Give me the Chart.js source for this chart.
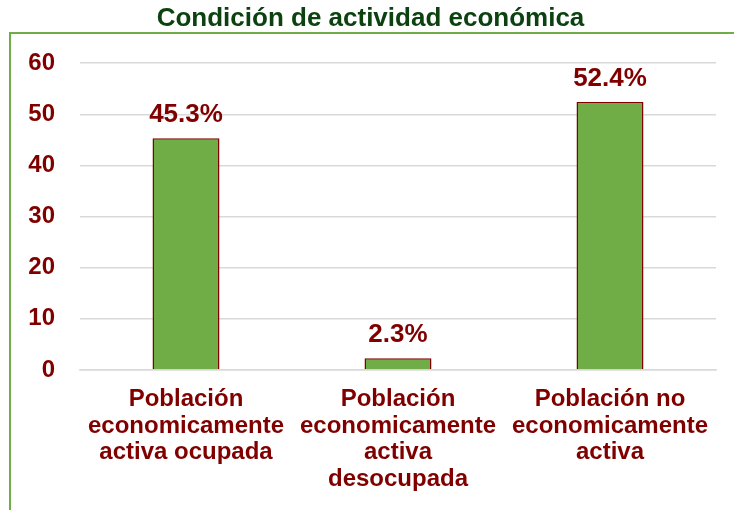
<!DOCTYPE html>
<html>
<head>
<meta charset="utf-8">
<script src="https://cdn.jsdelivr.net/npm/chart.js@4"></script>
<style>
  html, body { margin: 0; padding: 0; background: #fff; }
  #wrap { width: 734px; height: 510px; }
</style>
</head>
<body>
<div id="wrap"><canvas id="actividad"></canvas></div>
<script>
// Condición de actividad económica
const categorias = [
  ["Población", "economicamente", "activa ocupada"],
  ["Población", "economicamente", "activa", "desocupada"],
  ["Población no", "economicamente", "activa"]
];
const porcentajes = [45.3, 2.3, 52.4];
const ticksY = [0, 10, 20, 30, 40, 50, 60];

const rojo = "#800000";
const verde = "#70AD47";

// marco verde (izquierda y arriba)
const marco = {
  id: "marco",
  beforeDraw(chart) {
    const c = chart.ctx;
    c.save();
    c.strokeStyle = verde;
    c.lineWidth = 2;
    c.beginPath();
    c.moveTo(10, chart.height);
    c.lineTo(10, 33);
    c.lineTo(chart.width, 33);
    c.stroke();
    c.restore();
  }
};

// etiquetas de valor sobre las barras
const etiquetas = {
  id: "etiquetas",
  afterDatasetsDraw(chart) {
    const c = chart.ctx;
    const meta = chart.getDatasetMeta(0);
    c.save();
    c.fillStyle = rojo;
    c.font = "bold 26px 'Liberation Sans', Arial, sans-serif";
    c.textAlign = "center";
    c.textBaseline = "alphabetic";
    meta.data.forEach(function(bar, i) {
      c.fillText(porcentajes[i].toFixed(1) + "%", bar.x, bar.y - 16);
    });
    c.restore();
  }
};

const ctx = document.getElementById("actividad").getContext("2d");
new Chart(ctx, {
  type: "bar",
  data: {
    labels: categorias,
    datasets: [{
      data: porcentajes,
      backgroundColor: verde,
      borderColor: rojo,
      borderWidth: 1.5,
      categoryPercentage: 1,
      barPercentage: 0.316
    }]
  },
  options: {
    responsive: true,
    maintainAspectRatio: false,
    animation: false,
    layout: {
      padding: { left: 25, right: 18, top: 0, bottom: 0 }
    },
    scales: {
      y: {
        min: 0,
        max: 60,
        afterBuildTicks: function(scale) {
          scale.ticks = ticksY.map(function(v) { return { value: v }; });
        },
        afterFit: function(scale) { scale.width = 55; },
        border: { display: false },
        grid: { color: "#D9D9D9", lineWidth: 1.5, drawTicks: false },
        ticks: {
          padding: 25,
          color: rojo,
          font: { family: "'Liberation Sans', Arial, sans-serif", size: 24, weight: "bold" }
        }
      },
      x: {
        afterFit: function(scale) { scale.height = 140; },
        border: { color: "#D9D9D9", width: 1.5 },
        grid: { display: false },
        ticks: {
          padding: 8,
          maxRotation: 0,
          autoSkip: false,
          color: rojo,
          font: { family: "'Liberation Sans', Arial, sans-serif", size: 24, weight: "bold", lineHeight: 1.11 }
        }
      }
    },
    plugins: {
      legend: { display: false },
      tooltip: { enabled: false },
      title: {
        display: true,
        text: "Condición de actividad económica",
        color: "#0B4210",
        padding: { top: 3, bottom: 29 },
        font: { family: "'Liberation Sans', Arial, sans-serif", size: 26, weight: "bold", lineHeight: 1.2 }
      }
    }
  },
  plugins: [marco, etiquetas]
});
</script>
</body>
</html>
